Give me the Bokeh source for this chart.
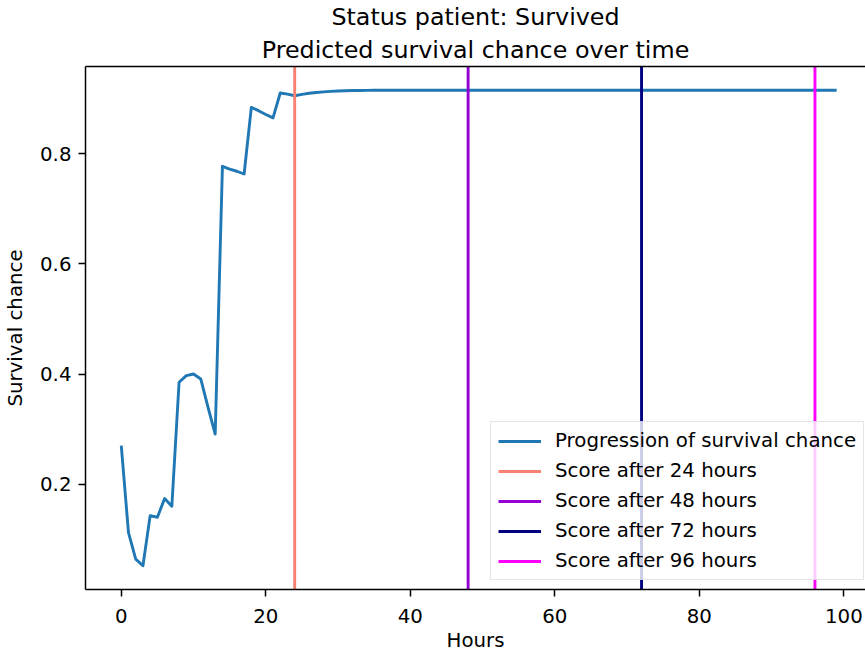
from bokeh.plotting import figure
from bokeh.models import Range1d, FixedTicker, LinearAxis, Legend, Title
from bokeh.embed import file_html
from bokeh.resources import INLINE

# ---------------- data ----------------
hours = list(range(100))
survival = [
    0.270, 0.112, 0.064, 0.052, 0.143, 0.140, 0.174, 0.160, 0.385, 0.397,
    0.400, 0.391, 0.340, 0.291, 0.777, 0.772, 0.768, 0.763, 0.884, 0.878,
    0.871, 0.865, 0.910, 0.908, 0.905, 0.9075, 0.9095, 0.911, 0.912, 0.913,
    0.9137, 0.9142, 0.9145, 0.9147, 0.9149, 0.915, 0.915, 0.915, 0.915, 0.915,
    0.915, 0.915, 0.915, 0.915, 0.915, 0.915, 0.915, 0.915, 0.915, 0.915,
    0.915, 0.915, 0.915, 0.915, 0.915, 0.915, 0.915, 0.915, 0.915, 0.915,
    0.915, 0.915, 0.915, 0.915, 0.915, 0.915, 0.915, 0.915, 0.915, 0.915,
    0.915, 0.915, 0.915, 0.915, 0.915, 0.915, 0.915, 0.915, 0.915, 0.915,
    0.915, 0.915, 0.915, 0.915, 0.915, 0.915, 0.915, 0.915, 0.915, 0.915,
    0.915, 0.915, 0.915, 0.915, 0.915, 0.915, 0.915, 0.915, 0.915, 0.915,
]
score_hours = [24, 48, 72, 96]
score_colors = ["#fa8072", "#9400d3", "#000080", "#ff00ff"]
score_labels = ["Score after 24 hours", "Score after 48 hours",
                "Score after 72 hours", "Score after 96 hours"]
series_label = "Progression of survival chance"
x_ticks = [0, 20, 40, 60, 80, 100]
y_ticks = [0.2, 0.4, 0.6, 0.8]
title_line1 = "Status patient: Survived"
title_line2 = "Predicted survival chance over time"
x_label = "Hours"
y_label = "Survival chance"

# ---------------- layout ----------------
W, H = 865, 654
FL, FT = 85, 66          # frame left / top (px)
FW, FH = 780, 523        # frame width / height (px)
FONT = "DejaVu Sans"
FS = "19.8px"
TFS = "23.8px"

# matplotlib-like 5% margins
xmin, xmax = min(hours), max(hours)
xpad = 0.05 * (xmax - xmin)
x0 = xmin - xpad
x_scale = 7.226                      # px per hour
x1 = x0 + FW / x_scale               # figure is cut at the right edge
ymin, ymax = min(survival), max(survival)
ypad = 0.05 * (ymax - ymin)
y0, y1 = ymin - ypad, ymax + ypad

p = figure(width=W, height=H, output_backend="svg", toolbar_location=None,
           x_range=Range1d(x0, x1), y_range=Range1d(y0, y1),
           min_border_left=FL, min_border_top=FT, min_border_right=0,
           min_border_bottom=H - FT - FH)
p.outline_line_color = None
p.xgrid.visible = False
p.ygrid.visible = False
p.background_fill_color = "white"
p.border_fill_color = "white"

def style_axis(ax):
    ax.axis_line_color = "black"
    ax.axis_line_width = 1.5
    ax.major_tick_line_color = "black"
    ax.major_tick_line_width = 1.5
    ax.major_tick_out = 7
    ax.major_tick_in = 0
    ax.minor_tick_line_color = None
    ax.major_label_text_font = FONT
    ax.major_label_text_font_size = FS
    ax.major_label_text_color = "black"
    ax.major_label_standoff = 7
    ax.axis_label_text_font = FONT
    ax.axis_label_text_font_size = FS
    ax.axis_label_text_font_style = "normal"
    ax.axis_label_text_color = "black"

xa = p.xaxis[0]
style_axis(xa)
xa.ticker = FixedTicker(ticks=x_ticks)
xa.axis_label = x_label
xa.major_label_standoff = 12
xa.axis_label_standoff = 3

ya = p.yaxis[0]
style_axis(ya)
ya.ticker = FixedTicker(ticks=y_ticks)
ya.axis_label = y_label
ya.axis_label_standoff = 10

top = LinearAxis(ticker=FixedTicker(ticks=[]))
top.axis_line_color = "black"
top.axis_line_width = 1.5
top.major_label_text_font_size = "0px"
top.major_label_standoff = 0
top.major_tick_out = 0
top.major_tick_line_color = None
top.minor_tick_line_color = None
p.add_layout(top, "above")

# ---------------- glyphs ----------------
items = []
r = p.line(hours, survival, line_color="#1f77b4", line_width=2.9,
           line_join="round")
items.append((series_label, [r]))
for h, c, lab in zip(score_hours, score_colors, score_labels):
    rr = p.line([h, h], [y0 - 1, y1 + 1], line_color=c, line_width=2.9)
    items.append((lab, [rr]))

legend = Legend(items=items, location=(405, 9), margin=0)
legend.label_text_font = FONT
legend.label_text_font_size = FS
legend.label_text_color = "black"
legend.glyph_width = 43
legend.glyph_height = 20
legend.label_height = 20
legend.spacing = 7
legend.padding = 7
legend.label_standoff = 14
legend.border_line_color = "#cccccc"
legend.border_line_width = 1
legend.background_fill_alpha = 0.8
p.add_layout(legend, "center")

# ---------------- title (two centred lines) ----------------
p.title.text = title_line1          # outer line
p.title.align = "center"
p.title.offset = 3
p.title.standoff = 0
p.title.text_font = FONT
p.title.text_font_size = TFS
p.title.text_font_style = "normal"
p.title.text_color = "black"

t2 = Title(text=title_line2, align="center", offset=3, standoff=6,
           text_font=FONT, text_font_size=TFS, text_font_style="normal",
           text_color="black")
p.add_layout(t2, "above")           # inner line, next to the frame

open("out.html", "w").write(file_html(p, INLINE))
